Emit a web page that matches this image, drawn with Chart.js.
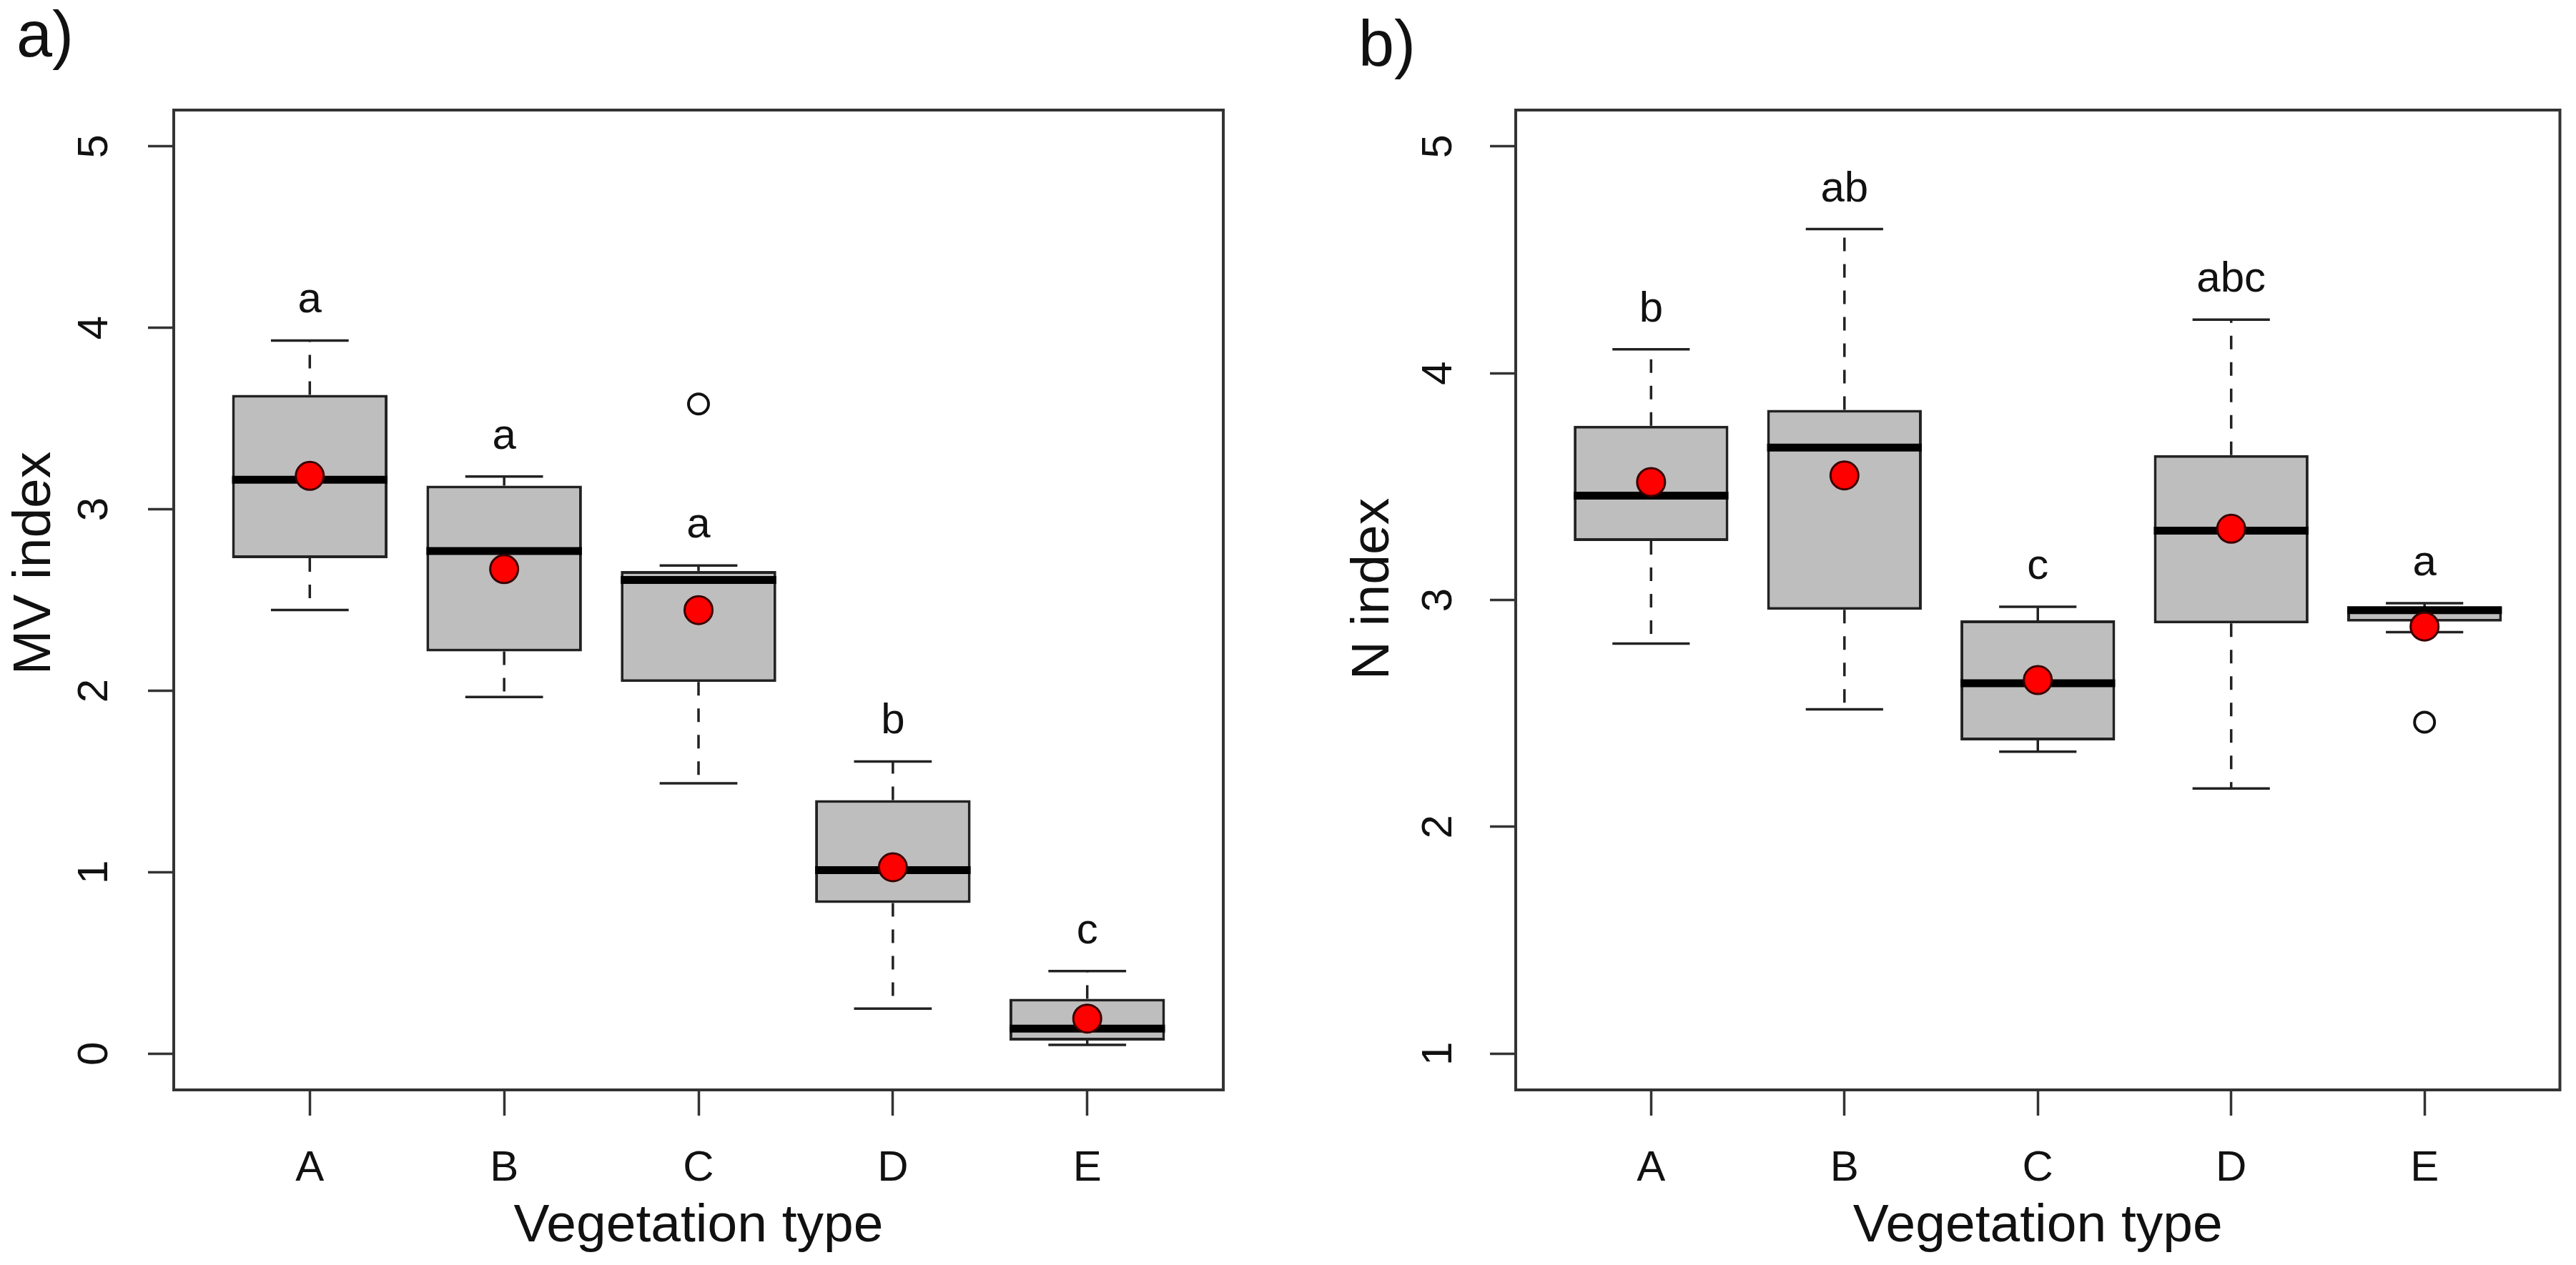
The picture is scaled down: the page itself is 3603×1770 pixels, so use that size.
<!DOCTYPE html>
<html>
<head>
<meta charset="utf-8">
<script src="https://cdn.jsdelivr.net/npm/chart.js@4.4.1/dist/chart.umd.min.js"></script>
<style>
  html, body { margin: 0; padding: 0; background: #ffffff; }
  #wrap { position: relative; width: 3603px; height: 1770px; overflow: hidden; background: #ffffff; }
  canvas { position: absolute; top: 0; }
  #cA { left: 0; }
  #cB { left: 1800px; }
</style>
</head>
<body>
<div id="wrap">
  <canvas id="cA" width="1800" height="1770"></canvas>
  <canvas id="cB" width="1803" height="1770"></canvas>
</div>
<script>
// ---------- data ----------
const categories = ['A', 'B', 'C', 'D', 'E'];
const xTickValues = [1, 2, 3, 4, 5];

// panel a) MV index
const mvTicks = [0, 1, 2, 3, 4, 5];
const mvLow   = [2.445, 1.965, 1.49, 0.248, 0.048];
const mvQ1    = [2.73, 2.216, 2.048, 0.83, 0.072];
const mvMed   = [3.163, 2.77, 2.61, 1.011, 0.138];
const mvQ3    = [3.63, 3.13, 2.66, 1.397, 0.302];
const mvHigh  = [3.93, 3.18, 2.69, 1.61, 0.455];
const mvMean  = [3.184, 2.67, 2.444, 1.027, 0.193];
const mvOutlierCat = ['C'];
const mvOutlierVal = [3.58];
const mvLetters = ['a', 'a', 'a', 'b', 'c'];

// panel b) N index
const nTicks = [1, 2, 3, 4, 5];
const nLow   = [2.808, 2.518, 2.331, 2.169, 2.858];
const nQ1    = [3.26, 2.957, 2.381, 2.897, 2.905];
const nMed   = [3.46, 3.672, 2.633, 3.306, 2.955];
const nQ3    = [3.768, 3.838, 2.91, 3.639, 2.968];
const nHigh  = [4.105, 4.635, 2.97, 4.236, 2.986];
const nMean  = [3.52, 3.549, 2.647, 3.314, 2.883];
const nOutlierCat = ['E'];
const nOutlierVal = [2.461];
const nLetters = ['b', 'ab', 'c', 'abc', 'a'];

// ---------- styling ----------
const FONT = '"Liberation Sans", Arial, Helvetica, sans-serif';
const INK = '#111111';
Chart.defaults.font.family = FONT;
Chart.defaults.color = INK;

const boxPlugin = {
  id: 'boxExtras',
  beforeDatasetsDraw(chart, args, o) {
    const { ctx } = chart;
    const x = chart.scales.x, y = chart.scales.y;
    const bars = chart.getDatasetMeta(0).data;
    ctx.save();
    ctx.strokeStyle = '#222';
    ctx.lineWidth = 3.5;
    ctx.lineCap = 'butt';
    o.low.forEach((lo, i) => {
      const px = x.getPixelForValue(i + 1);
      const half = bars[i].width / 4;
      const line = (x1, y1, x2, y2) => { ctx.beginPath(); ctx.moveTo(x1, y1); ctx.lineTo(x2, y2); ctx.stroke(); };
      ctx.setLineDash([19, 18]);
      line(px, y.getPixelForValue(o.q3[i]), px, y.getPixelForValue(o.high[i]));
      line(px, y.getPixelForValue(o.q1[i]), px, y.getPixelForValue(lo));
      ctx.setLineDash([]);
      const yh = y.getPixelForValue(o.high[i]);
      const yl = y.getPixelForValue(lo);
      line(px - half, yh, px + half, yh);
      line(px - half, yl, px + half, yl);
    });
    ctx.restore();
  },
  afterDatasetDraw(chart, args, o) {
    if (args.meta.type !== 'bar') return;
    const { ctx } = chart;
    const y = chart.scales.y;
    ctx.save();
    ctx.strokeStyle = '#000';
    ctx.lineWidth = 11;
    ctx.lineCap = 'butt';
    args.meta.data.forEach((el, i) => {
      const py = y.getPixelForValue(o.med[i]);
      ctx.beginPath();
      ctx.moveTo(el.x - el.width / 2, py);
      ctx.lineTo(el.x + el.width / 2, py);
      ctx.stroke();
    });
    ctx.restore();
  },
  afterDraw(chart, args, o) {
    const { ctx, chartArea: a } = chart;
    const x = chart.scales.x, y = chart.scales.y;
    ctx.save();
    // full frame around plot region
    ctx.strokeStyle = '#333';
    ctx.lineWidth = 4;
    ctx.strokeRect(a.left, a.top, a.right - a.left, a.bottom - a.top);
    // group letters above whiskers
    ctx.fillStyle = INK;
    ctx.font = '60px ' + FONT;
    ctx.textAlign = 'center';
    ctx.textBaseline = 'alphabetic';
    o.letters.forEach((t, i) => {
      ctx.fillText(t, x.getPixelForValue(i + 1), y.getPixelForValue(o.high[i]) - 39);
    });
    // y axis title
    ctx.translate(o.yTitleX, o.yTitleY);
    ctx.rotate(-Math.PI / 2);
    ctx.font = '75px ' + FONT;
    ctx.textAlign = 'center';
    ctx.textBaseline = 'middle';
    ctx.fillText(o.yTitle, 0, 0);
    ctx.restore();
  }
};

function makePanel(p) {
  return new Chart(document.getElementById(p.canvas), {
    type: 'bar',
    data: {
      datasets: [
        {
          type: 'bar', label: 'box', order: 3,
          data: categories.map((c, i) => ({ x: i + 1, y: [p.q1[i], p.q3[i]] })),
          backgroundColor: '#BEBEBE', borderColor: '#222', borderWidth: 4,
          borderSkipped: false, barPercentage: 0.8, categoryPercentage: 1
        },
        {
          type: 'scatter', label: 'outliers', order: 2,
          data: p.outCat.map((c, k) => ({ x: categories.indexOf(c) + 1, y: p.outVal[k] })),
          pointRadius: 14, pointBorderWidth: 4,
          pointBackgroundColor: 'rgba(0,0,0,0)', pointBorderColor: '#111', clip: false
        },
        {
          type: 'scatter', label: 'mean', order: 1,
          data: categories.map((c, i) => ({ x: i + 1, y: p.mean[i] })),
          pointRadius: 19.5, pointBorderWidth: 3,
          pointBackgroundColor: '#FF0000', pointBorderColor: '#3a0000', clip: false
        }
      ]
    },
    plugins: [boxPlugin],
    options: {
      responsive: false,
      animation: false,
      events: [],
      layout: { padding: { left: p.padLeft, right: p.padRight, top: 0, bottom: 0 } },
      plugins: {
        legend: { display: false },
        tooltip: { enabled: false },
        title: {
          display: true, text: p.title, align: 'start', color: INK,
          font: { size: 90, weight: 'normal' },
          padding: { top: p.titleTop, bottom: 108 === 0 ? 0 : (154 - 108 - p.titleTop) }
        },
        boxExtras: {
          low: p.low, q1: p.q1, med: p.med, q3: p.q3, high: p.high,
          letters: p.letters, yTitle: p.yTitle, yTitleX: p.yTitleX, yTitleY: p.yTitleY
        }
      },
      scales: {
        x: {
          type: 'linear', min: 0.3, max: 5.7, offset: false,
          afterBuildTicks: s => { s.ticks = xTickValues.map(v => ({ value: v })); },
          afterFit: s => { s.height = 245; },
          grid: { offset: false, drawOnChartArea: false, drawTicks: true, tickLength: 36, tickWidth: 3.5, tickColor: '#333', color: '#333' },
          border: { display: false },
          ticks: { callback: v => categories[v - 1], font: { size: 60 }, padding: 38, maxRotation: 0, autoSkip: false, color: INK },
          title: { display: true, text: 'Vegetation type', font: { size: 75 }, padding: { top: 0, bottom: 9 }, color: INK }
        },
        y: {
          type: 'linear', min: p.yMin, max: p.yMax,
          afterBuildTicks: s => { s.ticks = p.ticks.map(v => ({ value: v })); },
          afterFit: s => { s.width = 220; },
          grid: { drawOnChartArea: false, drawTicks: true, tickLength: 36, tickWidth: 3.5, tickColor: '#333', color: '#333' },
          border: { display: false },
          ticks: { callback: v => String(v), font: { size: 60 }, padding: p.tickPad, minRotation: 90, maxRotation: 90, crossAlign: 'center', color: INK },
          title: { display: false }
        }
      }
    }
  });
}

makePanel({
  canvas: 'cA', title: 'a)', titleTop: 0, padLeft: 23, padRight: 89,
  yMin: -0.2, yMax: 5.2, ticks: mvTicks, tickPad: 57,
  low: mvLow, q1: mvQ1, med: mvMed, q3: mvQ3, high: mvHigh, mean: mvMean,
  outCat: mvOutlierCat, outVal: mvOutlierVal, letters: mvLetters,
  yTitle: 'MV index', yTitleX: 49, yTitleY: 788
});

makePanel({
  canvas: 'cB', title: 'b)', titleTop: 13, padLeft: 100, padRight: 19,
  yMin: 0.84, yMax: 5.16, ticks: nTicks, tickPad: 54,
  low: nLow, q1: nQ1, med: nMed, q3: nQ3, high: nHigh, mean: nMean,
  outCat: nOutlierCat, outVal: nOutlierVal, letters: nLetters,
  yTitle: 'N index', yTitleX: 121, yTitleY: 824
});
</script>
</body>
</html>
